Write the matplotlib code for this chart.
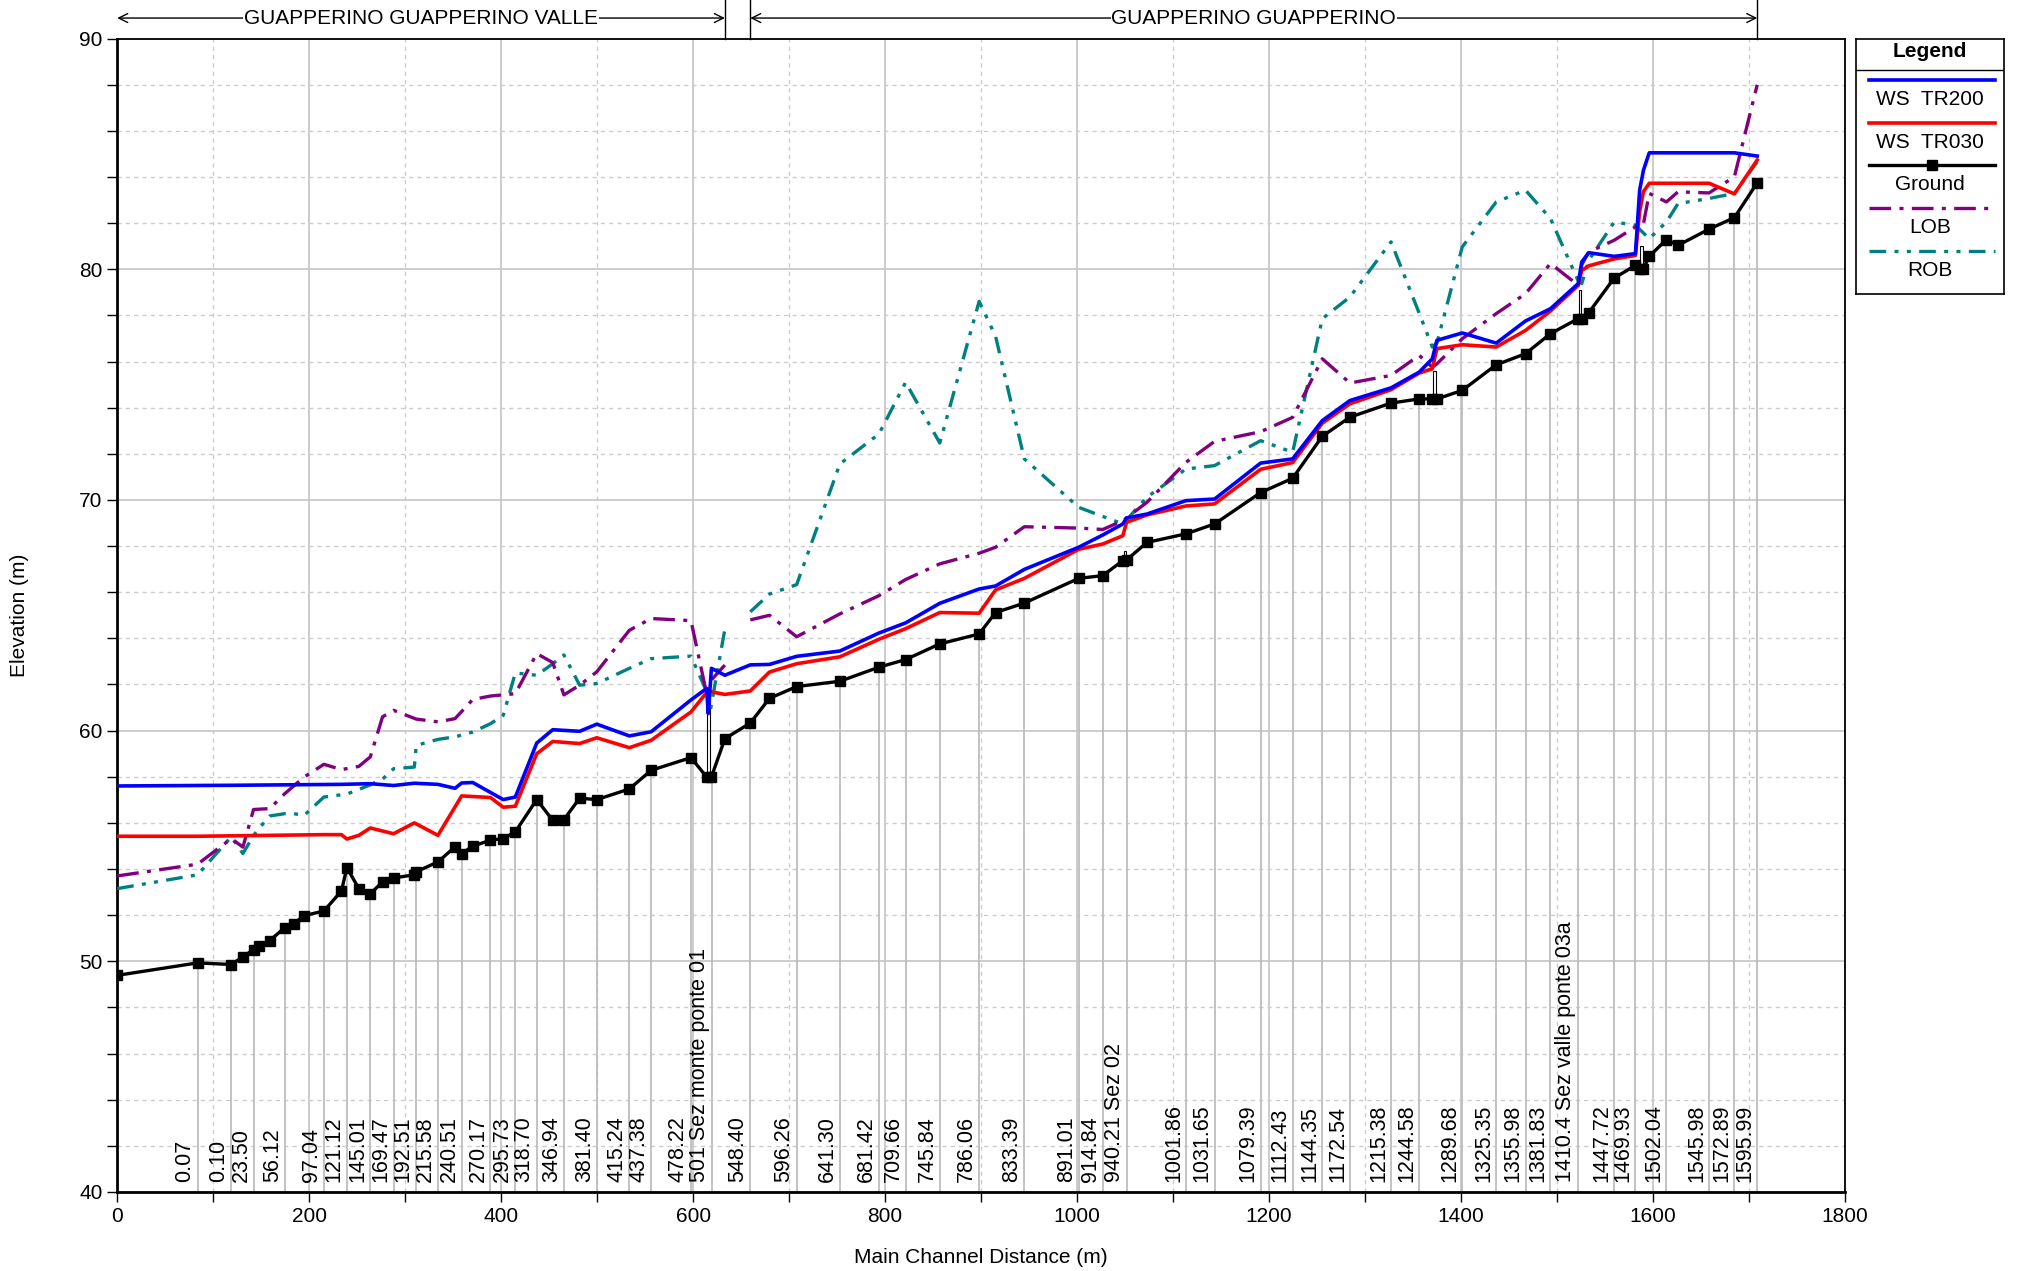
import numpy as np
import matplotlib
matplotlib.use("Agg")
import matplotlib.pyplot as plt
from matplotlib import transforms
from matplotlib.patches import Rectangle

plt.rcParams['font.family'] = ['Liberation Sans', 'DejaVu Sans']

# ground profile (main channel distance, elevation)
ground_x = [0, 83.7, 118.8, 130.9, 142.0, 147.4, 158.9, 174.6, 183.7, 194.8, 215.3, 233.6, 239.2, 251.7,
            263.6, 276.4, 287.9, 309.5, 311.5, 334.1, 351.9, 358.8, 370.4, 388.8, 402.1, 414.7, 437.0,
            453.7, 465.3, 481.7, 499.6, 533.5, 556.2, 597.7, 614.0, 619.0, 633.0, 659.5, 679.5, 707.8,
            752.8, 793.5, 821.3, 856.9, 897.9, 915.0, 945.0, 1001.6, 1026.7, 1047.6, 1051.5, 1072.8,
            1113.3, 1143.2, 1191.2, 1224.5, 1255.4, 1284.2, 1327.0, 1356.3, 1370.0, 1374.8, 1401.2,
            1436.6, 1467.1, 1493.1, 1522.0, 1525.7, 1533.0, 1559.5, 1581.6, 1586.0, 1590.0, 1596.0,
            1613.9, 1626.0, 1658.3, 1684.7, 1708.5]
ground_y = [49.39, 49.93, 49.86, 50.19, 50.51, 50.65, 50.90, 51.46, 51.63, 51.98, 52.18, 53.05, 54.06, 53.15,
            52.93, 53.44, 53.61, 53.75, 53.88, 54.31, 54.96, 54.67, 54.99, 55.25, 55.32, 55.61, 57.01,
            56.11, 56.14, 57.07, 57.01, 57.47, 58.28, 58.83, 57.99, 57.99, 59.65, 60.33, 61.40, 61.91,
            62.14, 62.75, 63.08, 63.76, 64.19, 65.12, 65.53, 66.60, 66.72, 67.37, 67.40, 68.16,
            68.53, 68.96, 70.32, 70.94, 72.76, 73.59, 74.20, 74.38, 74.38, 74.38, 74.75,
            75.86, 76.34, 77.21, 77.86, 77.86, 78.12, 79.62, 80.17, 80.03, 80.03, 80.56,
            81.29, 81.04, 81.74, 82.24, 83.75]

ws200_x = [0, 118.8, 233.6, 263.6, 287.9, 309.5, 334.1, 351.9, 358.8, 370.4, 402.1, 414.7, 437.0, 453.7,
           481.7, 499.6, 533.5, 556.2, 597.7, 614.0, 615.7, 619.0, 633.0, 659.5, 679.5, 707.8, 752.8,
           793.5, 821.3, 856.9, 897.9, 915.0, 945.0, 1001.6, 1026.7, 1047.6, 1051.5, 1072.8, 1113.3,
           1143.2, 1191.2, 1224.5, 1255.4, 1284.2, 1327.0, 1356.3, 1370.0, 1374.8, 1401.2, 1436.6,
           1467.1, 1493.1, 1522.0, 1525.7, 1533.0, 1559.5, 1581.6, 1586.0, 1590.0, 1596.0, 1684.7, 1708.5]
ws200_y = [57.60, 57.63, 57.67, 57.70, 57.62, 57.72, 57.67, 57.50, 57.73, 57.75, 57.01, 57.12, 59.46, 60.04,
           59.97, 60.28, 59.77, 59.95, 61.33, 61.83, 60.74, 62.70, 62.40, 62.85, 62.87, 63.22, 63.45,
           64.23, 64.67, 65.52, 66.14, 66.27, 66.99, 67.95, 68.48, 68.96, 69.22, 69.39, 69.97,
           70.04, 71.60, 71.78, 73.44, 74.31, 74.86, 75.54, 76.12, 76.92, 77.24, 76.80,
           77.76, 78.29, 79.38, 80.32, 80.72, 80.56, 80.68, 83.43, 84.30, 85.05, 85.05, 84.91]

ws030_x = [0, 83.7, 215.3, 233.6, 239.2, 251.7, 263.6, 287.9, 309.5, 334.1, 358.8, 388.8, 402.1, 414.7,
           437.0, 453.7, 481.7, 499.6, 533.5, 556.2, 597.7, 614.0, 619.0, 633.0, 659.5, 679.5, 707.8,
           752.8, 793.5, 821.3, 856.9, 897.9, 915.0, 945.0, 1001.6, 1026.7, 1047.6, 1051.5, 1072.8,
           1113.3, 1143.2, 1191.2, 1224.5, 1255.4, 1284.2, 1327.0, 1356.3, 1370.0, 1374.8, 1401.2,
           1436.6, 1467.1, 1493.1, 1522.0, 1525.7, 1533.0, 1559.5, 1581.6, 1586.0, 1590.0, 1596.0,
           1658.3, 1684.7, 1708.5]
ws030_y = [55.42, 55.42, 55.49, 55.49, 55.30, 55.46, 55.78, 55.53, 56.00, 55.46, 57.17, 57.10, 56.68, 56.72,
           59.00, 59.53, 59.44, 59.69, 59.26, 59.58, 60.81, 61.65, 61.68, 61.57, 61.72, 62.54, 62.90,
           63.20, 63.96, 64.42, 65.12, 65.09, 66.10, 66.60, 67.86, 68.09, 68.45, 69.03, 69.35,
           69.74, 69.83, 71.33, 71.62, 73.33, 74.17, 74.78, 75.50, 75.69, 76.56, 76.73,
           76.63, 77.35, 78.19, 79.30, 79.95, 80.15, 80.45, 80.60, 82.50, 83.37, 83.73,
           83.73, 83.27, 84.74]

# left overbank, two reaches
lob_valle_x = [0, 83.7, 118.8, 130.9, 142.0, 158.9, 174.6, 194.8, 215.3, 233.6, 251.7, 263.6, 276.4, 287.9,
               311.5, 334.1, 351.9, 370.4, 388.8, 414.7, 437.0, 453.7, 465.3, 481.7, 499.6, 533.5, 556.2,
               597.7, 614.0, 619.0, 633.0]
lob_valle_y = [53.70, 54.21, 55.32, 54.95, 56.58, 56.62, 57.27, 57.99, 58.54, 58.31, 58.45, 58.86, 60.60, 60.88,
               60.50, 60.38, 60.52, 61.35, 61.50, 61.60, 63.34, 62.95, 61.55, 61.97, 62.55, 64.35, 64.86,
               64.77, 61.60, 62.20, 62.84]
lob_main_x = [659.5, 679.5, 707.8, 752.8, 793.5, 821.3, 856.9, 897.9, 915.0, 945.0, 1001.6, 1026.7, 1047.6,
              1072.8, 1113.3, 1143.2, 1191.2, 1224.5, 1255.4, 1284.2, 1327.0, 1356.3, 1370.0, 1374.8,
              1401.2, 1436.6, 1467.1, 1493.1, 1522.0, 1525.7, 1533.0, 1559.5, 1581.6, 1590.0, 1596.0,
              1613.9, 1626.0, 1658.3, 1684.7, 1708.5]
lob_main_y = [64.80, 65.00, 64.07, 65.06, 65.85, 66.55, 67.23, 67.69, 67.95, 68.84, 68.78, 68.72, 69.10,
              69.90, 71.63, 72.54, 72.96, 73.58, 76.12, 75.07, 75.40, 76.27, 75.76, 75.90,
              76.99, 78.08, 78.94, 80.25, 79.31, 80.20, 80.75, 81.26, 81.84, 81.98, 83.29,
              82.92, 83.36, 83.31, 84.01, 88.00]

# right overbank, two reaches
rob_valle_x = [0, 83.7, 118.8, 130.9, 142.0, 147.4, 158.9, 174.6, 183.7, 194.8, 215.3, 239.2, 251.7, 263.6,
               276.4, 287.9, 309.5, 311.5, 334.1, 351.9, 370.4, 388.8, 402.1, 414.7, 437.0, 453.7, 465.3,
               481.7, 499.6, 533.5, 556.2, 597.7, 614.0, 618.0, 633.0]
rob_valle_y = [53.15, 53.75, 55.40, 54.67, 55.45, 55.75, 56.30, 56.40, 56.40, 56.33, 57.12, 57.25, 57.45, 57.65,
               57.90, 58.35, 58.42, 59.36, 59.62, 59.73, 59.94, 60.30, 60.66, 62.50, 62.40, 62.90, 63.28,
               61.97, 62.04, 62.70, 63.12, 63.23, 61.70, 60.90, 64.40]
rob_main_x = [659.5, 679.5, 707.8, 752.8, 793.5, 821.3, 856.9, 897.9, 915.0, 945.0, 1001.6, 1047.6, 1072.8,
              1113.3, 1143.2, 1191.2, 1224.5, 1255.4, 1284.2, 1327.0, 1356.3, 1370.0, 1374.8, 1401.2,
              1436.6, 1467.1, 1493.1, 1522.0, 1525.7, 1533.0, 1559.5, 1581.6, 1596.0, 1613.9, 1626.0,
              1658.3, 1684.7, 1708.5]
rob_main_y = [65.15, 65.92, 66.33, 71.56, 72.86, 75.10, 72.47, 78.61, 77.10, 71.78, 69.68, 68.96, 70.12,
              71.34, 71.49, 72.57, 72.07, 77.86, 78.80, 81.19, 78.10, 76.63, 76.80, 80.97,
              82.92, 83.43, 82.20, 79.50, 79.38, 80.39, 82.05, 81.91, 81.33, 82.05, 82.85,
              83.07, 83.29, 84.66]

# labelled river stations
sec_x = [83.7, 118.8, 142.0, 174.6, 215.3, 239.2, 263.6, 287.9, 311.0, 334.1, 358.8, 388.8, 414.7, 437.0,
         465.3, 499.6, 533.5, 556.2, 597.7, 620.1, 659.5, 707.8, 752.8, 793.5, 821.3, 856.9, 897.9, 945.0,
         1001.6, 1026.7, 1051.5, 1113.3, 1143.2, 1191.2, 1224.5, 1255.4, 1284.2, 1327.0, 1356.3, 1401.2,
         1436.6, 1467.1, 1493.1, 1522.0, 1559.5, 1581.6, 1613.9, 1658.3, 1684.7, 1708.5]
sec_labels = ["0.07", "0.10", "23.50", "56.12", "97.04", "121.12", "145.01", "169.47", "192.51", "215.58",
              "240.51", "270.17", "295.73", "318.70", "346.94", "381.40", "415.24", "437.38", "478.22",
              "501 Sez monte ponte 01", "548.40", "596.26", "641.30", "681.42", "709.66", "745.84", "786.06",
              "833.39", "891.01", "914.84", "940.21 Sez 02", "1001.86", "1031.65", "1079.39", "1112.43",
              "1144.35", "1172.54", "1215.38", "1244.58", "1289.68", "1325.35", "1355.98", "1381.83",
              "1410.4 Sez valle ponte 03a", "1447.72", "1469.93", "1502.04", "1545.98", "1572.89", "1595.99"]

# bridges: x start, x end, low chord bottom, deck top
bridges = [(614.5, 618.0, 58.0, 61.7), (1048.5, 1050.5, 67.4, 67.8), (1371.0, 1374.0, 74.4, 75.6),
           (1522.5, 1525.0, 77.9, 79.1), (1586.5, 1589.5, 80.05, 81.0)]

reach_names = ["GUAPPERINO GUAPPERINO VALLE", "GUAPPERINO GUAPPERINO"]
reach_start = [0, 659.5]
reach_end = [633.0, 1708.5]

fig = plt.figure(figsize=(20.18, 12.71), dpi=100)
ax = fig.add_axes([0.0581, 0.0622, 0.8562, 0.9074])
ax.set_xlim(0, 1800)
ax.set_ylim(40, 90)
ax.set_xticks(np.arange(0, 1801, 200))
ax.set_xticks(np.arange(100, 1800, 200), minor=True)
ax.set_yticks(np.arange(40, 91, 10))
ax.set_yticks(np.arange(42, 90, 2), minor=True)
ax.grid(which='major', color='#c8c8c8', lw=1.3, ls='-')
ax.grid(which='minor', color='#cccccc', lw=1.0, ls=(0, (3, 3)))
ax.set_axisbelow(True)
ax.tick_params(which='both', direction='out', length=7, width=1, labelsize=15, colors='black')
for s in ax.spines.values():
    s.set_linewidth(1.3)
ax.spines['left'].set_linewidth(2)
ax.spines['bottom'].set_linewidth(2)

# river station lines and labels
for x, lab in zip(sec_x, sec_labels):
    top = np.interp(x, ground_x, ground_y)
    ax.plot([x, x], [40, top], color='#bdbdbd', lw=1.3, zorder=1.5)
    ax.annotate(lab, xy=(x, 40), xytext=(-2, 10), textcoords='offset pixels', rotation=90,
                ha='right', va='bottom', fontsize=15.5)

for b in bridges:
    ax.add_patch(Rectangle((b[0], b[2]), b[1] - b[0], b[3] - b[2], fill=False,
                           edgecolor='black', lw=0.8, zorder=2))

lob_style = dict(color='#800080', lw=2.4, ls=(0, (6.5, 2.5, 1.2, 2.5)))
rob_style = dict(color='#008080', lw=2.4, ls=(0, (5, 2.5, 1.2, 2.5, 1.2, 2.5)))
ax.plot(rob_valle_x, rob_valle_y, zorder=3, **rob_style)
ax.plot(rob_main_x, rob_main_y, zorder=3, **rob_style)
ax.plot(lob_valle_x, lob_valle_y, zorder=3, **lob_style)
ax.plot(lob_main_x, lob_main_y, zorder=3, **lob_style)
ax.plot(ws030_x, ws030_y, color='#ff0000', lw=2.6, zorder=4)
ax.plot(ws200_x, ws200_y, color='#0000ff', lw=2.6, zorder=5)
ax.plot(ground_x, ground_y, color='black', lw=2.4, marker='s', ms=6.5, zorder=6)

fig.text(0.486, 0.011, "Main Channel Distance (m)", ha='center', va='center', fontsize=15)
fig.text(0.0095, 0.516, "Elevation (m)", ha='center', va='center', rotation=90, fontsize=15)

# reach arrows above the plot
trans = transforms.blended_transform_factory(ax.transData, fig.transFigure)
for name, x0, x1 in zip(reach_names, reach_start, reach_end):
    ax.annotate('', xy=(x1, 0.9858), xytext=(x0, 0.9858), xycoords=trans, textcoords=trans,
                arrowprops=dict(arrowstyle='<->', color='black', lw=1, shrinkA=0, shrinkB=0,
                                mutation_scale=16), annotation_clip=False)
    ax.text((x0 + x1) / 2, 0.9858, name, transform=trans, ha='center', va='center', fontsize=15,
            bbox=dict(facecolor='white', edgecolor='none', pad=0.5))
    for xv in (x0, x1):
        if xv > 0:
            ax.plot([xv, xv], [0.9696, 1.0], transform=trans, color='black', lw=1, clip_on=False)

# legend box
lax = fig.add_axes([1856 / 2018, 1 - 293.5 / 1271, 148 / 2018, 255 / 1271])
lax.set_xlim(0, 1)
lax.set_ylim(255, 0)
lax.set_xticks([])
lax.set_yticks([])
for s in lax.spines.values():
    s.set_linewidth(1.2)
lax.text(0.5, 13, "Legend", ha='center', va='center', fontsize=15, fontweight='bold')
lax.axhline(31, color='black', lw=1)
items = [("WS  TR200", dict(color='#0000ff', lw=2.6)),
         ("WS  TR030", dict(color='#ff0000', lw=2.6)),
         ("Ground", dict(color='black', lw=2.4, marker='s', ms=6.5, markevery=[1])),
         ("LOB", lob_style),
         ("ROB", rob_style)]
for i, (name, st) in enumerate(items):
    yl = 41.5 + i * 42.7
    lax.plot([0.088, 0.514, 0.94], [yl, yl, yl], **st)
    lax.text(0.5, yl + 19.5, name, ha='center', va='center', fontsize=15)

fig.savefig("out.png", dpi=100)
